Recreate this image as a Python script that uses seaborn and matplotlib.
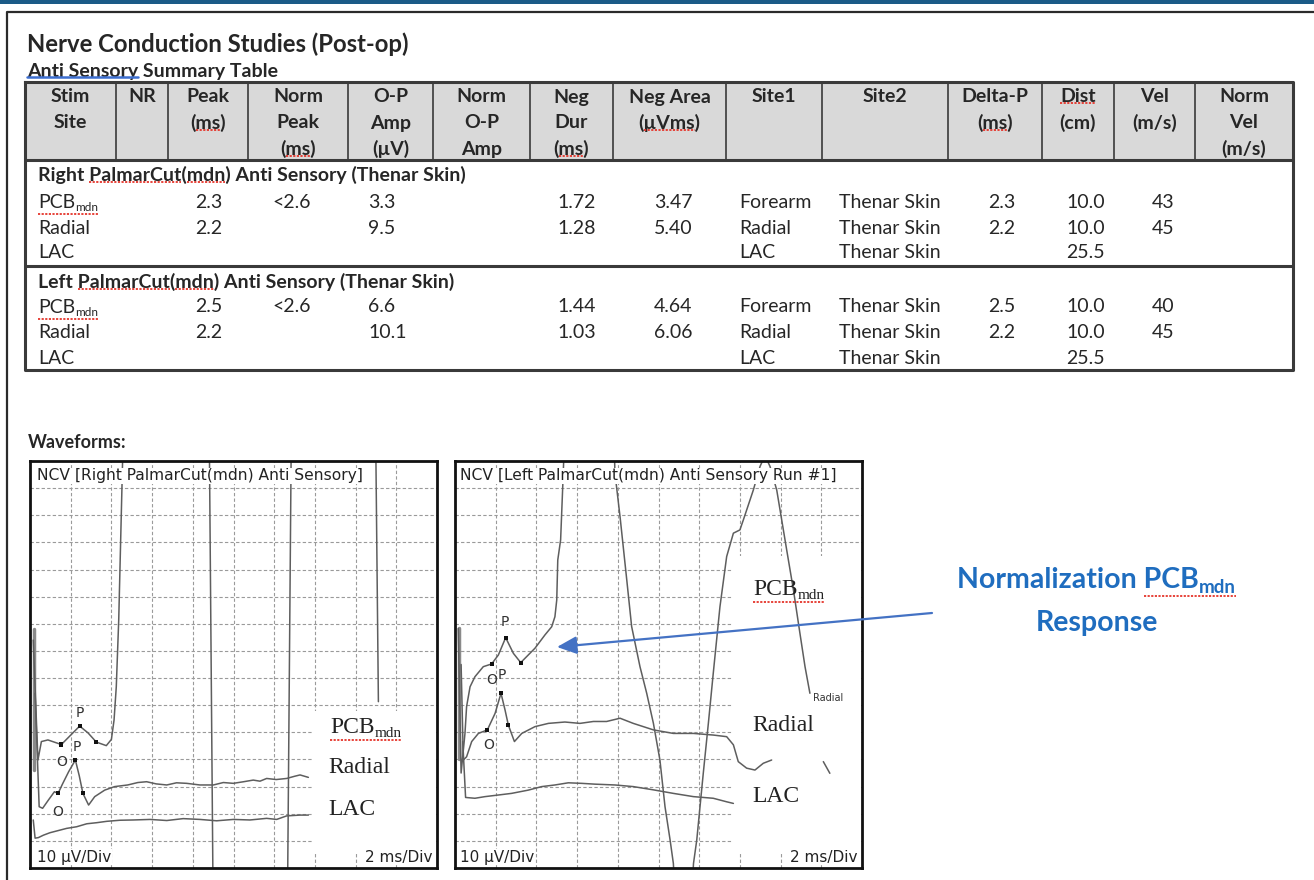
import numpy as np
import matplotlib.pyplot as plt
import seaborn as sns
from matplotlib.patches import Rectangle

# ---------------- summary table ----------------
header_lines = [
    ["Stim", "Site"], ["NR"], ["Peak", "(ms)"], ["Norm", "Peak", "(ms)"],
    ["O-P", "Amp", "(µV)"], ["Norm", "O-P", "Amp"], ["Neg", "Dur", "(ms)"],
    ["Neg Area", "(µVms)"], ["Site1"], ["Site2"], ["Delta-P", "(ms)"],
    ["Dist", "(cm)"], ["Vel", "(m/s)"], ["Norm", "Vel", "(m/s)"],
]
group_titles = ["Right PalmarCut(mdn) Anti Sensory (Thenar Skin)",
                "Left PalmarCut(mdn) Anti Sensory (Thenar Skin)"]
stim_sites = ["PCB", "Radial", "LAC"]
peak = [["2.3", "2.2", ""], ["2.5", "2.2", ""]]
norm_peak = [["<2.6", "", ""], ["<2.6", "", ""]]
op_amp = [["3.3", "9.5", ""], ["6.6", "10.1", ""]]
neg_dur = [["1.72", "1.28", ""], ["1.44", "1.03", ""]]
neg_area = [["3.47", "5.40", ""], ["4.64", "6.06", ""]]
site1 = ["Forearm", "Radial", "LAC"]
site2 = ["Thenar Skin", "Thenar Skin", "Thenar Skin"]
delta_p = [["2.3", "2.2", ""], ["2.5", "2.2", ""]]
dist = [["10.0", "10.0", "25.5"], ["10.0", "10.0", "25.5"]]
vel = [["43", "45", ""], ["40", "45", ""]]

# ---------------- waveforms (ms, µV) ----------------
# Right side
r_pcb_t = [0.16, 0.39, 0.56, 0.88, 1.54, 2.03, 2.44, 2.85, 3.26, 3.75, 4.00, 4.13, 4.24, 4.36,
           4.55, 4.75, 8.70, 9.05, 12.60, 12.95, 16.85, 17.12]
r_pcb_a = [84.0, 39.8, 46.6, 47.2, 45.5, 49.2, 52.3, 49.8, 46.4, 45.1, 47.4, 54.5, 66.8, 91.4,
           150.0, 260, 260, -60, -60, 260, 260, 61.3]
r_rad_t = [0.25, 0.45, 0.62, 0.90, 1.20, 1.38, 1.60, 1.90, 2.23, 2.42, 2.60, 2.88, 3.18, 3.67,
           4.16, 4.80, 5.30, 5.73, 6.20, 6.72, 7.20, 7.70, 8.35, 9.01, 9.50, 9.99, 10.50, 10.97,
           11.30, 11.63, 12.10, 12.61, 13.00, 13.27, 13.68]
r_rad_a = [64.4, 22.6, 22.0, 25.0, 28.1, 27.5, 31.0, 35.5, 39.8, 34.0, 27.5, 23.2, 26.3, 28.7,
           30.0, 30.6, 31.5, 31.8, 31.0, 30.6, 31.4, 31.2, 30.6, 30.6, 31.5, 31.2, 31.8, 32.4,
           32.0, 33.0, 32.6, 33.0, 33.8, 34.3, 33.4]
r_lac_t = [0.16, 0.25, 0.41, 0.66, 0.98, 1.39, 1.80, 2.29, 2.79, 3.28, 3.77, 4.42, 5.08, 5.90,
           6.72, 7.53, 8.35, 9.17, 9.99, 10.81, 11.63, 12.12, 12.61, 13.27, 13.68]
r_lac_a = [17.7, 11.0, 11.2, 12.1, 13.0, 13.8, 14.6, 15.2, 16.3, 16.7, 17.2, 17.6, 17.7, 17.9,
           17.5, 18.2, 17.9, 17.4, 17.9, 17.7, 18.3, 17.9, 19.2, 19.5, 19.5]
r_marks_t = [1.54, 2.44, 3.26, 1.38, 2.23, 2.60]
r_marks_a = [45.5, 52.3, 46.4, 27.5, 39.8, 27.5]
r_letters = ["O", "P", "O", "P"]
r_letters_t = [1.54, 2.44, 1.38, 2.28]
r_letters_a = [39.2, 57.0, 20.8, 44.7]

# Left side
l_pcb_t = [0.16, 0.30, 0.49, 0.57, 0.74, 0.98, 1.39, 1.80, 2.13, 2.49, 2.87, 3.23, 3.52, 3.93,
           4.42, 4.75, 4.91, 5.00, 5.05, 5.19, 5.32, 5.45, 7.75, 7.86, 8.11, 8.44, 8.68, 9.09,
           9.42, 9.75, 10.07, 10.32, 10.57, 10.73, 10.85, 11.60, 11.72, 11.88, 12.20, 12.45,
           12.69, 13.02, 13.35, 13.68, 14.00, 14.17, 14.66, 14.99, 15.23, 15.48, 15.81, 16.30,
           16.63, 16.95, 17.20, 17.44]
l_pcb_a = [88.3, 35.0, 49.6, 59.5, 66.8, 70.5, 74.2, 75.2, 78.5, 84.9, 79.1, 75.7, 77.9, 81.0,
           85.9, 88.9, 92.6, 98.8, 113.5, 120.9, 145.5, 175, 175, 145.5, 129.5, 106.2, 89.0, 74.2,
           64.4, 53.3, 39.8, 22.6, 10.3, 1.7, -15, -15, 1.7, 10.3, 34.9, 53.3,
           71.7, 96.3, 114.8, 123.4, 124.6, 128.3, 139.3, 148.0, 152.0, 148.0, 139.3, 117.2,
           102.5, 86.5, 74.2, 64.4]
l_rad_t = [0.30, 0.41, 0.57, 0.82, 1.15, 1.59, 1.97, 2.26, 2.46, 2.62, 2.92, 3.28, 3.93, 4.59,
           5.40, 6.14, 6.80, 7.45, 8.11, 8.76, 9.75, 10.73, 11.72, 12.69, 13.35, 13.68, 13.92,
           14.33, 14.74, 15.15, 15.56]
l_rad_a = [75.0, 39.8, 41.0, 46.6, 49.6, 50.9, 57.0, 64.4, 58.2, 52.7, 46.6, 49.6, 52.1, 53.3,
           53.8, 53.3, 54.0, 54.0, 55.2, 53.3, 50.9, 49.6, 49.6, 49.0, 48.4, 45.4, 39.2,
           36.8, 36.1, 38.6, 39.8]
l_rad_tail_t = [18.10, 18.42]
l_rad_tail_a = [39.2, 34.9]
l_lac_t = [0.38, 0.52, 0.98, 1.47, 2.13, 2.78, 3.60, 4.26, 4.91, 5.57, 6.22, 6.88, 7.86, 8.76,
           9.75, 10.73, 11.72, 12.69, 13.35, 13.68]
l_lac_a = [46.6, 26.0, 25.7, 26.3, 26.9, 27.5, 28.7, 30.0, 30.6, 31.4, 31.2, 30.9, 30.6, 30.0,
           28.8, 27.5, 26.3, 25.7, 24.4, 23.8]
l_marks_t = [1.80, 2.49, 3.23, 1.59, 2.26, 2.62]
l_marks_a = [75.2, 84.9, 75.7, 50.9, 64.4, 52.7]
l_letters = ["O", "P", "O", "P"]
l_letters_t = [1.80, 2.46, 1.64, 2.29]
l_letters_a = [69.3, 90.8, 45.4, 71.1]

sns.set_theme(style="white")
plt.rcParams['font.family'] = ['Lato', 'DejaVu Sans']

W, H = 1314, 880
fig = plt.figure(figsize=(W / 100, H / 100), dpi=100)
page = fig.add_axes([0, 0, 1, 1])
page.set_xlim(0, W)
page.set_ylim(H, 0)
page.axis('off')
renderer = fig.canvas.get_renderer()


def squiggle(ax, x0, x1, y, color='#e5352b', ls=(0, (1.2, 0.8)), lw=1.3):
    # x0, x1, y in display pixels
    inv = ax.transData.inverted()
    (a0, b0), (a1, b1) = inv.transform([(x0, y), (x1, y)])
    ax.plot([a0, a1], [b0, b1], color=color, lw=lw, ls=ls, clip_on=False, zorder=6)


def word_span(txt, word):
    full = txt.get_text()
    bb = txt.get_window_extent(renderer)
    prop = txt.get_fontproperties()
    i = full.index(word)
    w0 = renderer.get_text_width_height_descent(full[:i], prop, ismath=False)[0] if i else 0
    w1 = renderer.get_text_width_height_descent(full[:i + len(word)], prop, ismath=False)[0]
    return bb.x0 + w0, bb.x0 + w1, bb.y0


def squiggle_word(ax, txt, word, **kw):
    x0, x1, y0 = word_span(txt, word)
    squiggle(ax, x0, x1, y0 + 2, **kw)


def sub_text(ax, x, y, main, sub, size, subsize, drop, squig=True, **kw):
    t1 = ax.text(x, y, main, fontsize=size, va='baseline', **kw)
    bb = t1.get_window_extent(renderer)
    dx, dy = ax.transData.transform((x, y))
    sx, sy = ax.transData.inverted().transform((bb.x1 + 0.5, dy - drop))
    t2 = ax.text(sx, sy, sub, fontsize=subsize, va='baseline', **kw)
    bb2 = t2.get_window_extent(renderer)
    if squig:
        # only the last word of the main text is flagged
        x0 = word_span(t1, main.split()[-1])[0]
        squiggle(ax, x0, bb2.x1, dy - drop - 3)
    return t1, t2


# page decoration
page.add_patch(Rectangle((0, 0), W, 4, color='#1b5b87', lw=0))
page.plot([7, 7, W], [H, 12.5, 12.5], color='#2b2b2b', lw=1.6)

page.text(27, 44, "Nerve Conduction Studies (Post-op)", fontsize=17.2, fontweight='bold', va='center')
subtitle = page.text(27, 71, "Anti Sensory Summary Table", fontsize=14, fontweight='bold', va='center')
squiggle_word(page, subtitle, "Anti Sensory", color='#3d6fd0', ls='-', lw=1.8)

# table frame
col_edges = [25, 116, 168, 248, 348, 433, 530, 613, 726, 822, 948, 1042, 1114, 1195, 1293]
tab_top, head_bot, group_sep, tab_bot = 82, 160, 266, 370
left, right = col_edges[0], col_edges[-1]
page.add_patch(Rectangle((left, tab_top), right - left, head_bot - tab_top,
                         facecolor='#d9d9d9', edgecolor='none'))
for x in col_edges[1:-1]:
    page.plot([x, x], [tab_top, head_bot], color='#3a3a3a', lw=1.2)
page.plot([left, right, right, left, left], [tab_top, tab_top, tab_bot, tab_bot, tab_top],
          color='#3a3a3a', lw=2.2, solid_capstyle='projecting')
page.plot([left, right], [head_bot, head_bot], color='#3a3a3a', lw=2.2)
page.plot([left, right], [group_sep, group_sep], color='#3a3a3a', lw=2.2)

head_y = [97, 123, 149]
head_squig = {(2, 1): "ms", (3, 2): "ms", (6, 2): "ms", (7, 1): "µVms", (10, 1): "ms", (11, 0): "Dist"}
for i, lines in enumerate(header_lines):
    cx = (col_edges[i] + col_edges[i + 1]) / 2
    for j, s in enumerate(lines):
        t = page.text(cx, head_y[j], s, ha='center', va='center', fontsize=14, fontweight='bold')
        if (i, j) in head_squig:
            squiggle_word(page, t, head_squig[(i, j)])

group_y = [175, 282]
row_y = [[202, 228, 253], [307, 333, 358]]
body_cols = [(195, peak), (272, norm_peak), (368, op_amp), (557, neg_dur), (654, neg_area),
             (739, [site1, site1]), (839, [site2, site2]), (988, delta_p), (1066, dist), (1152, vel)]
for g in range(2):
    gt = page.text(38, group_y[g], group_titles[g], fontsize=14, fontweight='bold', va='center')
    squiggle_word(page, gt, "PalmarCut")
    squiggle_word(page, gt, "mdn")
    for r, site in enumerate(stim_sites):
        y = row_y[g][r]
        if site == "PCB":
            sub_text(page, 38, y + 6, "PCB", "mdn", 14, 8.5, 3)
        else:
            page.text(38, y, site, fontsize=14, va='center')
        for x, vals in body_cols:
            page.text(x, y, vals[g][r], fontsize=14, va='center')

page.text(28, 443, "Waveforms:", fontsize=13, fontweight='bold', va='center')


# ---------------- waveform panels ----------------
def make_panel(left_px, title, t0):
    ax = fig.add_axes([left_px / W, (H - 868) / H, 407 / W, 407 / H])
    ax.set_xlim(0, 20)
    ax.set_ylim(0, 150)
    ax.set_xticks(np.arange(2, 20, 2))
    ax.set_yticks(np.arange(10, 150, 10))
    ax.tick_params(length=0, labelbottom=False, labelleft=False)
    ax.set_axisbelow(True)
    ax.grid(True, color='#9a9a9a', lw=0.8, ls=(0, (3, 2)))
    for sp in ax.spines.values():
        sp.set_color('#111111')
        sp.set_linewidth(2)
    box = dict(fc='white', ec='none', pad=0.5)
    ax.text(t0, 144.5, title, fontsize=11.2, family='DejaVu Sans', va='center', color='#222', bbox=box)
    ax.text(t0, 4, "10 µV/Div", fontsize=11, family='DejaVu Sans', va='center', color='#222', bbox=box)
    ax.text(19.8, 4, "2 ms/Div", fontsize=11, family='DejaVu Sans', va='center', ha='right',
            color='#222', bbox=box)
    return ax


def draw_trace(ax, t, a):
    sns.lineplot(x=t, y=a, ax=ax, color='#5e5e5e', lw=1.1, sort=False, estimator=None)


serif = ['Liberation Serif', 'DejaVu Serif']

# right side
ax1 = make_panel(30, "NCV [Right PalmarCut(mdn) Anti Sensory]", 0.34)
ax1.add_patch(Rectangle((13.86, 5), 6.0, 53, fc='white', ec='none', zorder=1.5))
ax1.plot([0.2, 0.2], [88, 36], color='#8a8a8a', lw=2.5)
draw_trace(ax1, r_pcb_t, r_pcb_a)
draw_trace(ax1, r_rad_t, r_rad_a)
draw_trace(ax1, r_lac_t, r_lac_a)
sns.scatterplot(x=r_marks_t, y=r_marks_a, ax=ax1, color='#111', s=9, marker='s', edgecolor='none', zorder=4)
for s, t, a in zip(r_letters, r_letters_t, r_letters_a):
    ax1.text(t, a, s, ha='center', va='center', fontsize=10, family='DejaVu Sans', color='#333')
sub_text(ax1, 14.74, 49.8, "PCB", "mdn", 17, 11, 4, family=serif, color='#222')
ax1.text(14.64, 36.9, "Radial", fontsize=17, family=serif, va='center', color='#222')
ax1.text(14.64, 21.4, "LAC", fontsize=17, family=serif, va='center', color='#222')

# left side
ax2 = make_panel(455, "NCV [Left PalmarCut(mdn) Anti Sensory Run #1]", 0.25)
ax2.add_patch(Rectangle((13.66, 5), 6.2, 110, fc='white', ec='none', zorder=1.5))
ax2.plot([0.2, 0.2], [88.5, 40], color='#8a8a8a', lw=2.5)
draw_trace(ax2, l_pcb_t, l_pcb_a)
draw_trace(ax2, l_rad_t, l_rad_a)
draw_trace(ax2, l_rad_tail_t, l_rad_tail_a)
draw_trace(ax2, l_lac_t, l_lac_a)
sns.scatterplot(x=l_marks_t, y=l_marks_a, ax=ax2, color='#111', s=9, marker='s', edgecolor='none', zorder=4)
for s, t, a in zip(l_letters, l_letters_t, l_letters_a):
    ax2.text(t, a, s, ha='center', va='center', fontsize=10, family='DejaVu Sans', color='#333')
sub_text(ax2, 14.64, 100.6, "PCB", "mdn", 17, 11, 4, family=serif, color='#222')
ax2.text(14.59, 52.7, "Radial", fontsize=17, family=serif, va='center', color='#222')
ax2.text(14.59, 26.2, "LAC", fontsize=17, family=serif, va='center', color='#222')
ax2.text(17.6, 62.7, "Radial", fontsize=7, family='DejaVu Sans', va='center', color='#333', clip_on=True)

# ---------------- callout ----------------
top = fig.add_axes([0, 0, 1, 1], zorder=5)
top.set_xlim(0, W)
top.set_ylim(H, 0)
top.axis('off')
top.patch.set_alpha(0)
top.annotate('', xy=(557, 647), xytext=(932, 613),
             arrowprops=dict(arrowstyle='-|>,head_length=1.0,head_width=0.45', color='#4472c4',
                             lw=1.6, shrinkA=0, shrinkB=0))
sub_text(top, 957, 588, "Normalization PCB", "mdn", 20.5, 13.5, 5, color='#1f6dbf', fontweight='bold')
top.text(1097, 623, "Response", fontsize=20.5, fontweight='bold', color='#1f6dbf', ha='center', va='center')

fig.savefig('out.png', dpi=100)
